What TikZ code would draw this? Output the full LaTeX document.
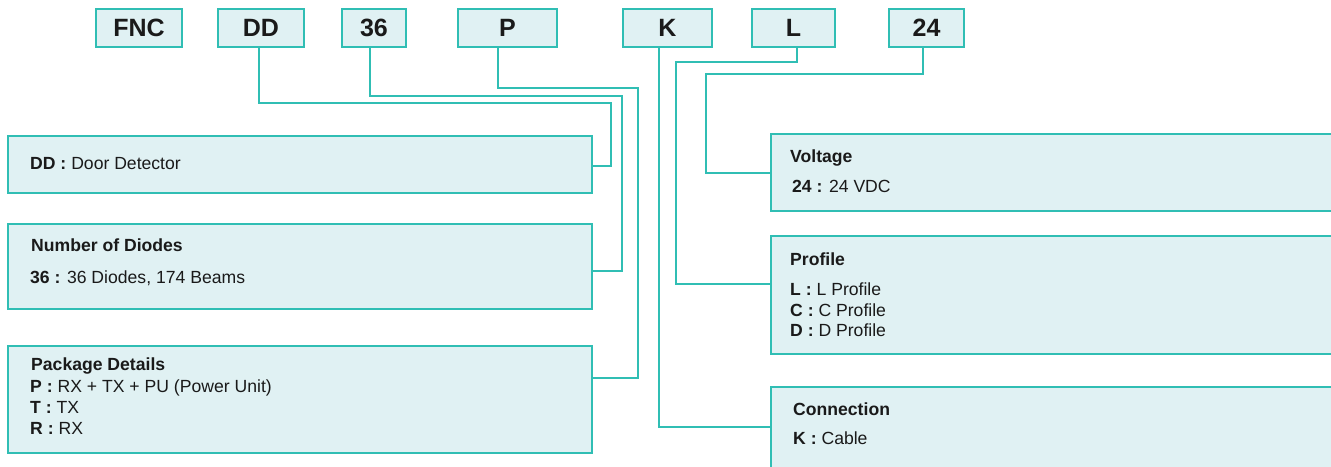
\documentclass[tikz,border=0pt]{standalone}
\usepackage{fontspec}
\setmainfont{Liberation Sans}
\definecolor{tealline}{RGB}{48,190,180}
\definecolor{tealfill}{RGB}{224,241,243}
\definecolor{ink}{RGB}{26,26,26}
\begin{document}
\begin{tikzpicture}[x=1pt,y=-1pt,
  codebox/.style={draw=tealline,fill=tealfill,line width=2pt,inner sep=0pt,
    font=\fontsize{25}{30}\selectfont\bfseries,text=ink,minimum height=38pt,anchor=north west},
  descbox/.style={draw=tealline,fill=tealfill,line width=1.6pt,inner sep=0pt,anchor=north west},
  txt/.style={anchor=base west,inner sep=0pt,font=\fontsize{17.6}{21}\selectfont,text=ink},
  conn/.style={draw=tealline,line width=2pt}]
\useasboundingbox (0,0) rectangle (1331,466);
\begin{scope}
\clip (0,0) rectangle (1331,466);
% top code boxes
\node[codebox,minimum width=86pt] (tFNC) at (95,8) {FNC};
\node[codebox,minimum width=86pt] (tDD) at (217,8) {DD};
\node[codebox,minimum width=64pt] (t36) at (341,8) {36};
\node[codebox,minimum width=99pt] (tP) at (457,8) {P};
\node[codebox,minimum width=89pt] (tK) at (622,8) {K};
\node[codebox,minimum width=83pt] (tL) at (751,8) {L};
\node[codebox,minimum width=75pt] (t24) at (888,8) {24};
% description boxes
\node[descbox,minimum width=584pt,minimum height=57pt] (bDD) at (7,135) {};
\node[descbox,minimum width=584pt,minimum height=85pt] (bDio) at (7,223) {};
\node[descbox,minimum width=584pt,minimum height=107pt] (bPkg) at (7,345) {};
\node[descbox,minimum width=570pt,minimum height=77pt] (bVolt) at (770,133) {};
\node[descbox,minimum width=570pt,minimum height=118pt] (bProf) at (770,235) {};
\node[descbox,minimum width=570pt,minimum height=100pt] (bConn) at (770,386) {};
% texts
\node[txt] (xDD) at (30,169) {\textbf{DD :} Door Detector};
\node[txt] (xDioH) at (31,251) {\textbf{Number of Diodes}};
\node[txt] (xDio) at (30,283) {\textbf{36 :} 36 Diodes, 174 Beams};
\node[txt] (xPkgH) at (31,370) {\textbf{Package Details}};
\node[txt] (xPkgP) at (30,392) {\textbf{P :} RX + TX + PU (Power Unit)};
\node[txt] (xPkgT) at (30,413) {\textbf{T :} TX};
\node[txt] (xPkgR) at (30,434) {\textbf{R :} RX};
\node[txt] (xVoltH) at (790,162) {\textbf{Voltage}};
\node[txt] (xVolt) at (792,192) {\textbf{24 :} 24 VDC};
\node[txt] (xProfH) at (790,265) {\textbf{Profile}};
\node[txt] (xProfL) at (790,295) {\textbf{L :} L Profile};
\node[txt] (xProfC) at (790,316) {\textbf{C :} C Profile};
\node[txt] (xProfD) at (790,336) {\textbf{D :} D Profile};
\node[txt] (xConnH) at (793,415) {\textbf{Connection}};
\node[txt] (xConn) at (793,444) {\textbf{K :} Cable};
% connector start columns and bend points
\coordinate (sDD) at (259,0);
\coordinate (s36) at (370,0);
\coordinate (sP) at (498,0);
\coordinate (sK) at (659,0);
\coordinate (sL) at (797,0);
\coordinate (s24) at (923,0);
\coordinate (cDDa) at (611,103);
\coordinate (cDDb) at (611,166);
\coordinate (c36a) at (622,96);
\coordinate (c36b) at (622,271);
\coordinate (cPa) at (638,88);
\coordinate (cPb) at (638,378);
\coordinate (cKb) at (659,427);
\coordinate (cLa) at (676,62);
\coordinate (cLb) at (676,284);
\coordinate (c24a) at (706,74);
\coordinate (c24b) at (706,173);
% connectors
\draw[conn] (tDD.south -| sDD) |- (cDDa) -- (cDDb) -- (bDD.east |- cDDb);
\draw[conn] (t36.south -| s36) |- (c36a) -- (c36b) -- (bDio.east |- c36b);
\draw[conn] (tP.south -| sP) |- (cPa) -- (cPb) -- (bPkg.east |- cPb);
\draw[conn] (tK.south -| sK) |- (bConn.west |- cKb);
\draw[conn] (tL.south -| sL) |- (cLa) -- (cLb) -- (bProf.west |- cLb);
\draw[conn] (t24.south -| s24) |- (c24a) -- (c24b) -- (bVolt.west |- c24b);
\end{scope}
\end{tikzpicture}
\end{document}
